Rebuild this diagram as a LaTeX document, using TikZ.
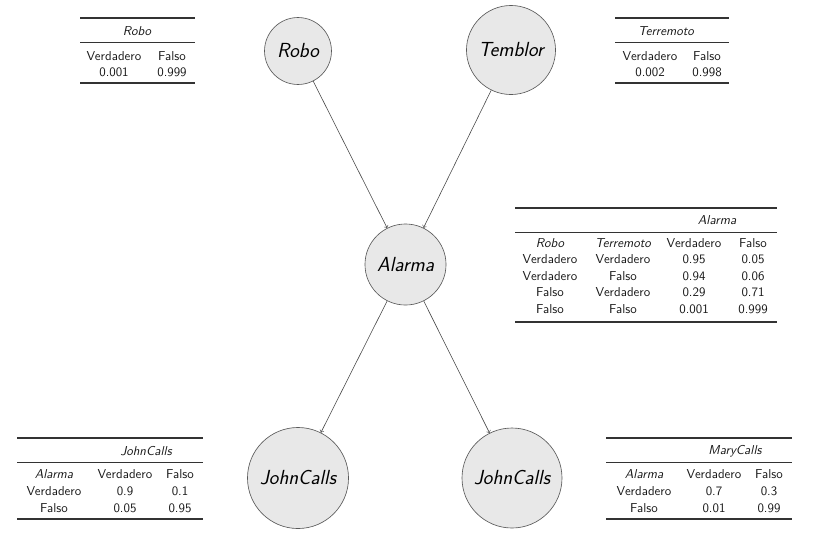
\documentclass[tikz,border=0pt]{standalone}
\begin{document}
\begin{tikzpicture}[x=0.775pt,y=-0.775pt, font=\sffamily,
  var/.style={circle, draw=black!65, fill=black!9, line width=0.5pt, inner sep=0pt,
    font=\sffamily\slshape\fontsize{15.8}{18}\selectfont},
  edge/.style={->, draw=black!72, line width=0.45pt},
  cell/.style={inner sep=0pt, text=black!90},
  hcell/.style={inner sep=0pt, text=black!90, font=\sffamily\slshape},
  heavy/.style={line width=0.8pt, draw=black!80},
  light/.style={line width=0.5pt, draw=black!80}]
\useasboundingbox (0,0) rectangle (816,542);

% ---------------- network nodes ----------------
\node[var, minimum size=51.9pt] (robo) at (298,51) {Robo};
\node[var, minimum size=69pt] (temblor) at (511,50) {Temblor};
\node[var, minimum size=62.8pt] (alarma) at (405.5,264.5) {Alarma};
\node[var, minimum size=78.3pt] (john) at (298,478) {JohnCalls};
\node[var, minimum size=77.5pt] (mary) at (512,478) {JohnCalls};

\draw[edge] (robo) -- (alarma);
\draw[edge] (temblor) -- (alarma);
\draw[edge] (alarma) -- (john);
\draw[edge] (alarma) -- (mary);

% ---------------- Robo table ----------------
\draw[heavy] (80,18) -- (195,18);
\draw[light] (80,42) -- (195,42);
\draw[heavy] (80,83) -- (195,83);
\node[hcell] (tr-h) at (137,31) {Robo};
\node[cell] (tr-v) at (114,56) {Verdadero};
\node[cell] (tr-f) at (172,56) {Falso};
\node[cell] (tr-1) at (114,72) {0.001};
\node[cell] (tr-2) at (172,72) {0.999};

% ---------------- Terremoto table ----------------
\draw[heavy] (615,18) -- (729,18);
\draw[light] (615,42) -- (729,42);
\draw[heavy] (615,83) -- (729,83);
\node[hcell] (tt-h) at (666,31) {Terremoto};
\node[cell] (tt-v) at (650,56) {Verdadero};
\node[cell] (tt-f) at (707,56) {Falso};
\node[cell] (tt-1) at (650,72) {0.002};
\node[cell] (tt-2) at (707,72) {0.998};

% ---------------- Alarma table ----------------
\draw[heavy] (515,208) -- (777,208);
\draw[light] (515,232) -- (777,232);
\draw[heavy] (515,322) -- (777,322);
\node[hcell] (ta-h) at (717,220) {Alarma};
\node[hcell] (ta-c1) at (550,243) {Robo};
\node[hcell] (ta-c2) at (623,243) {Terremoto};
\node[cell] (ta-c3) at (694,243) {Verdadero};
\node[cell] (ta-c4) at (753,243) {Falso};
\node[cell] (ta-11) at (550,259.5) {Verdadero};
\node[cell] (ta-12) at (623,259.5) {Verdadero};
\node[cell] (ta-13) at (694,259.5) {0.95};
\node[cell] (ta-14) at (753,259.5) {0.05};
\node[cell] (ta-21) at (550,276) {Verdadero};
\node[cell] (ta-22) at (623,276) {Falso};
\node[cell] (ta-23) at (694,276) {0.94};
\node[cell] (ta-24) at (753,276) {0.06};
\node[cell] (ta-31) at (550,292.5) {Falso};
\node[cell] (ta-32) at (623,292.5) {Verdadero};
\node[cell] (ta-33) at (694,292.5) {0.29};
\node[cell] (ta-34) at (753,292.5) {0.71};
\node[cell] (ta-41) at (550,309) {Falso};
\node[cell] (ta-42) at (623,309) {Falso};
\node[cell] (ta-43) at (694,309) {0.001};
\node[cell] (ta-44) at (753,309) {0.999};

% ---------------- JohnCalls table ----------------
\draw[heavy] (17,438) -- (203,438);
\draw[light] (17,462) -- (203,462);
\draw[heavy] (17,519) -- (203,519);
\node[hcell] (tj-h) at (146,451) {JohnCalls};
\node[hcell] (tj-c1) at (54,474) {Alarma};
\node[cell] (tj-c2) at (125,474) {Verdadero};
\node[cell] (tj-c3) at (180,474) {Falso};
\node[cell] (tj-11) at (54,491) {Verdadero};
\node[cell] (tj-12) at (125,491) {0.9};
\node[cell] (tj-13) at (180,491) {0.1};
\node[cell] (tj-21) at (54,508) {Falso};
\node[cell] (tj-22) at (125,508) {0.05};
\node[cell] (tj-23) at (180,508) {0.95};

% ---------------- MaryCalls table ----------------
\draw[heavy] (606,438) -- (792,438);
\draw[light] (606,462) -- (792,462);
\draw[heavy] (606,519) -- (792,519);
\node[hcell] (tm-h) at (735,451) {MaryCalls};
\node[hcell] (tm-c1) at (644,474) {Alarma};
\node[cell] (tm-c2) at (714,474) {Verdadero};
\node[cell] (tm-c3) at (769,474) {Falso};
\node[cell] (tm-11) at (644,491) {Verdadero};
\node[cell] (tm-12) at (714,491) {0.7};
\node[cell] (tm-13) at (769,491) {0.3};
\node[cell] (tm-21) at (644,508) {Falso};
\node[cell] (tm-22) at (714,508) {0.01};
\node[cell] (tm-23) at (769,508) {0.99};
\end{tikzpicture}
\end{document}
